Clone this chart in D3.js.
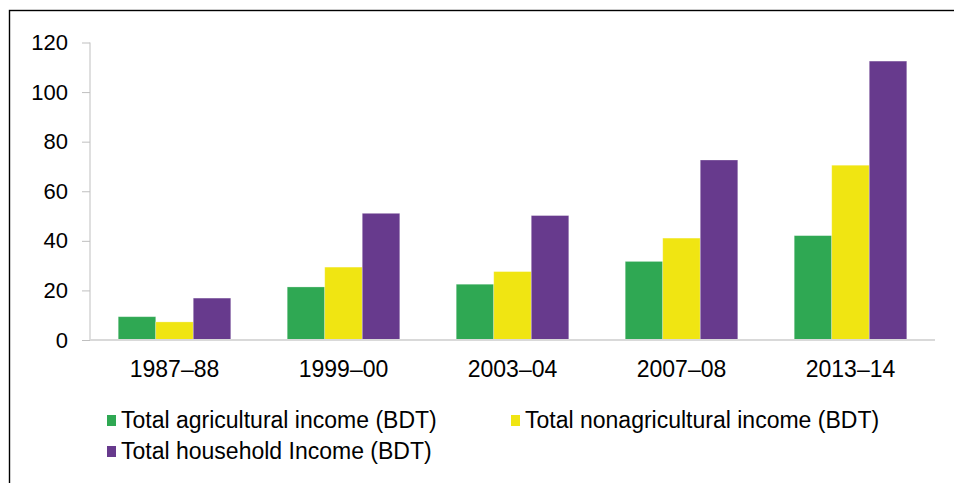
<!DOCTYPE html>
<html>
<head>
<meta charset="utf-8">
<script src="https://cdn.jsdelivr.net/npm/d3@7"></script>
<style>
    body { margin: 0; background: #fff; }
    svg { display: block; font-family: "Liberation Sans", Arial, sans-serif; }
</style>
</head>
<body>
<svg id="chart" width="954" height="483"></svg>
<script>
// Survey rounds
var years = ["1987\u201388", "1999\u201300", "2003\u201304", "2007\u201308", "2013\u201314"];

// Series names
var seriesNames = [
    "Total agricultural income (BDT)",
    "Total nonagricultural income (BDT)",
    "Total household Income (BDT)"
];

// Values, one per year
var agricultural = [9.4, 21.4, 22.5, 31.7, 42.1];
var nonAgricultural = [7.3, 29.4, 27.6, 41.1, 70.5];
var household = [16.9, 51.1, 50.2, 72.6, 112.5];

var yTicks = [0, 20, 40, 60, 80, 100, 120];
var colors = ["#2fa853", "#f0e512", "#673a8d"];

var allSeries = [agricultural, nonAgricultural, household];

var svg = d3.select("#chart");

// frame around the figure (runs off the right and bottom edges)
svg.append("rect")
    .attr("x", 9.5)
    .attr("y", 10.5)
    .attr("width", 1100)
    .attr("height", 1100)
    .attr("fill", "none")
    .attr("stroke", "#000")
    .attr("stroke-width", 1.4);

// scales
var x0 = d3.scaleBand()
    .domain(years)
    .range([90, 935])
    .paddingInner(0.334)
    .paddingOuter(0.167);

var x1 = d3.scaleBand()
    .domain(d3.range(seriesNames.length))
    .range([0, x0.bandwidth()]);

var y = d3.scaleLinear()
    .domain([0, 120])
    .range([340, 42.5]);

var color = d3.scaleOrdinal()
    .domain(d3.range(seriesNames.length))
    .range(colors);

// y axis
var yAxis = d3.axisLeft(y)
    .tickValues(yTicks)
    .tickSize(8)
    .tickPadding(14);

var gy = svg.append("g")
    .attr("transform", "translate(90,0)")
    .call(yAxis);

gy.select(".domain").attr("stroke", "#bfbfbf").attr("d", "M0," + y(120) + "V" + y(0));
gy.selectAll(".tick line").attr("stroke", "#bfbfbf");
gy.selectAll(".tick text")
    .attr("fill", "#000")
    .style("font-size", "22px")
    .style("font-family", "Liberation Sans, Arial, sans-serif");

// bars
var groups = svg.append("g")
    .selectAll("g")
    .data(years)
    .join("g")
    .attr("transform", function (d) { return "translate(" + x0(d) + ",0)"; });

groups.selectAll("rect")
    .data(function (d, i) {
        return allSeries.map(function (s, k) { return {k: k, v: s[i]}; });
    })
    .join("rect")
    .attr("x", function (d) { return x1(d.k); })
    .attr("y", function (d) { return y(d.v); })
    .attr("width", x1.bandwidth())
    .attr("height", function (d) { return y(0) - y(d.v); })
    .attr("fill", function (d) { return color(d.k); })
    .attr("stroke", "#fff")
    .attr("stroke-opacity", 0.35)
    .attr("stroke-width", 0.8);

// x axis
var xAxis = d3.axisBottom(x0)
    .tickSize(0)
    .tickPadding(21);

var gx = svg.append("g")
    .attr("transform", "translate(0,340)")
    .call(xAxis);

gx.select(".domain")
    .attr("stroke", "#d9d9d9")
    .attr("stroke-width", 2)
    .attr("d", "M90,0H935");
gx.selectAll(".tick text")
    .attr("fill", "#000")
    .style("font-size", "23px")
    .style("font-family", "Liberation Sans, Arial, sans-serif");

// legend
var legendPos = [
    {x: 107, y: 428},
    {x: 511, y: 428},
    {x: 107, y: 459}
];

var legend = svg.append("g")
    .selectAll("g")
    .data(seriesNames)
    .join("g")
    .attr("transform", function (d, i) {
        return "translate(" + legendPos[i].x + "," + legendPos[i].y + ")";
    });

legend.append("rect")
    .attr("x", 0)
    .attr("y", -13)
    .attr("width", 9)
    .attr("height", 11)
    .attr("fill", function (d, i) { return color(i); });

legend.append("text")
    .attr("x", 14)
    .attr("y", 0)
    .style("font-size", "23px")
    .attr("fill", "#000")
    .text(function (d) { return d; });
</script>
</body>
</html>
